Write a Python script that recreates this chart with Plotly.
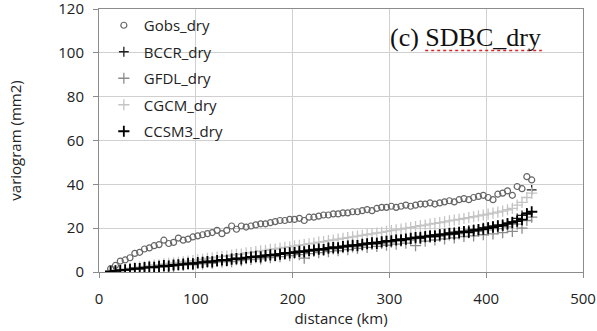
import plotly.graph_objects as go

distance = [12,17,22,27,32,37,42,47,52,57,62,67,72,77,82,87,92,97,102,107,112,117,122,127,132,137,142,147,152,157,
            162,167,172,177,182,187,192,197,202,207,212,217,222,227,232,237,242,247,252,257,262,267,272,277,282,287,
            292,297,302,307,312,317,322,327,332,337,342,347,352,357,362,367,372,377,382,387,392,397,402,407,412,417,
            422,427,432,437,442,447]

gobs = [1.5,3,5,5.5,6.5,8.5,9,10.5,11,12,12.5,14.5,13,13.5,15.5,14.5,15,16,16.5,17,17.5,18,19,17.5,19,21,19.5,21,20.5,21,
        21.5,22,22,22.5,23,23.5,23.5,24,24,24.5,23.5,25,25,25.5,26,26,26.5,26.5,27,27,27.5,27.5,28,28.5,28,29,
        29.5,29.5,30,29.5,30,30.5,30,30.5,31,31,31.5,31,31.5,32,32.5,32,33,33.5,33,34,34.5,35,34,33,35.5,36,
        37,35,39,38,43.5,42]

bccr = [0.2,0.6,0.7,1.1,1.3,1.4,1.8,1.9,2.3,2.4,2.5,2.8,3.0,3.1,3.5,3.4,3.8,4.1,4.2,4.6,4.5,5.0,5.1,5.6,5.4,5.8,6.3,6.2,6.5,7.0,
        6.9,7.3,7.7,7.6,8.1,8.3,8.8,8.6,9.2,9.1,9.6,9.9,10.3,10.1,10.7,11.0,11.4,11.2,11.8,12.1,12.0,12.5,12.8,13.2,13.0,13.6,
        13.9,14.3,14.1,14.8,15.1,14.9,15.5,15.8,16.2,16.0,16.7,17.0,17.3,17.1,17.8,18.2,18.5,18.3,19.1,19.4,19.0,20.2,20.6,21.0,21.5,20.8,
        22.4,23.0,24.5,25.8,27.0,37.5]

gfdl = [0.1,0.4,0.9,0.8,1.2,1.5,1.3,1.8,2.1,2.0,2.4,2.2,2.9,2.6,3.2,3.0,3.5,3.3,4.0,3.7,4.4,4.0,4.8,4.6,5.1,4.7,5.6,5.2,6.1,5.7,
        6.6,6.0,7.1,6.6,7.4,7.0,8.0,7.5,8.5,7.9,6.3,8.4,9.4,8.8,10.0,9.3,10.5,9.7,11.1,10.2,11.5,10.8,12.0,11.2,12.6,11.7,
        13.0,12.2,13.6,12.7,14.1,13.2,14.6,12.0,15.2,14.1,15.8,14.6,16.3,15.1,16.9,15.6,17.4,16.2,17.9,16.5,18.6,17.0,19.2,17.4,19.8,18.0,
        20.6,18.5,21.8,20.0,23.5,25.0]

cgcm = [0.4,0.8,1.2,1.4,1.8,2.0,2.3,2.6,2.8,3.2,3.3,3.7,3.9,4.2,4.4,4.8,5.0,5.2,5.6,5.8,6.2,6.4,6.8,7.1,7.3,7.7,8.0,8.2,8.7,8.9,
        9.3,9.6,9.9,10.3,10.5,10.9,11.2,11.5,11.9,12.2,12.5,12.9,13.2,13.6,13.9,14.3,14.6,15.0,15.3,15.7,16.0,16.4,16.7,17.1,17.4,17.8,
        18.1,18.5,18.9,19.2,19.6,20.0,20.3,20.7,21.1,21.4,21.8,22.2,22.5,22.9,23.3,23.7,24.0,24.4,24.8,25.2,25.6,26.0,26.4,26.9,27.3,27.8,
        28.4,29.0,30.5,31.8,34.0,36.0]

ccsm3 = [0.3,0.5,0.8,1.0,1.2,1.6,1.5,2.0,2.2,2.1,2.6,2.9,2.7,3.2,3.3,3.6,3.9,3.7,4.3,4.4,4.8,4.6,5.2,5.5,5.3,5.9,6.1,6.0,6.6,6.8,
         7.1,6.9,7.5,7.8,7.6,8.2,8.5,8.7,8.9,9.4,9.2,9.8,10.0,10.4,10.2,10.9,11.1,11.0,11.6,11.8,12.2,12.0,12.6,12.9,13.3,13.1,
         13.7,14.0,14.2,14.6,14.5,15.0,15.3,15.7,15.6,16.1,16.4,16.3,16.9,17.2,17.6,17.4,18.0,18.4,18.2,18.9,19.3,19.6,20.0,20.5,20.9,21.4,
         22.0,22.5,23.2,23.9,26.5,27.5]

series = [
    ("Gobs_dry", gobs, dict(symbol="circle-open", size=6, color="#666666", line=dict(width=1.2, color="#666666"))),
    ("BCCR_dry", bccr, dict(symbol="cross-thin", size=7, line=dict(width=1.3, color="#202020"))),
    ("GFDL_dry", gfdl, dict(symbol="cross-thin", size=8, line=dict(width=1.3, color="#8c8c8c"))),
    ("CGCM_dry", cgcm, dict(symbol="cross-thin", size=8, line=dict(width=1.3, color="#c4c4c4"))),
    ("CCSM3_dry", ccsm3, dict(symbol="cross-thin", size=8, line=dict(width=1.8, color="#000000"))),
]

fig = go.Figure()
for name, vals, mk in series:
    fig.add_trace(go.Scatter(x=distance, y=vals, mode="markers", name=name, marker=mk, legendgroup=name))

font_family = "Open Sans, Liberation Sans, sans-serif"
axis_common = dict(showgrid=True, gridcolor="#d0d0d0", gridwidth=1, showline=True, linecolor="#8c8c8c",
                   mirror=True, ticks="outside", ticklen=5, tickcolor="#8c8c8c", zeroline=False,
                   tickfont=dict(size=15), automargin=False, ticklabeloverflow="allow")
fig.update_layout(
    width=597, height=331,
    margin=dict(l=99, r=14, t=9, b=59),
    paper_bgcolor="white", plot_bgcolor="white",
    font=dict(family=font_family, size=14, color="#222222"),
    showlegend=True,
    legend=dict(x=0.01, y=1.0, xanchor="left", yanchor="top", bgcolor="rgba(0,0,0,0)",
                font=dict(size=15), traceorder="grouped", tracegroupgap=4),
    xaxis=dict(range=[0, 500], dtick=100, ticklabelstandoff=8,
               title=dict(text="distance (km)", font=dict(size=15), standoff=2),
               **axis_common),
    yaxis=dict(range=[0, 120], dtick=20, ticklabelstandoff=6,
               title=dict(text="variogram (mm2)", font=dict(size=15), standoff=33),
               **axis_common),
)

fig.add_annotation(text="(c) SDBC_dry", xref="paper", yref="paper", x=0.758, y=0.89,
                   xanchor="center", yanchor="middle", showarrow=False,
                   font=dict(family="Liberation Serif, serif", size=26, color="#111111"))
fig.add_shape(type="line", xref="paper", yref="paper", x0=0.674, x1=0.915, y0=0.842, y1=0.842,
              line=dict(color="#e02020", width=1.5, dash="dot"))

fig.write_html("out.html", config={"displayModeBar": False},
               post_script="document.body.style.margin='0';")
